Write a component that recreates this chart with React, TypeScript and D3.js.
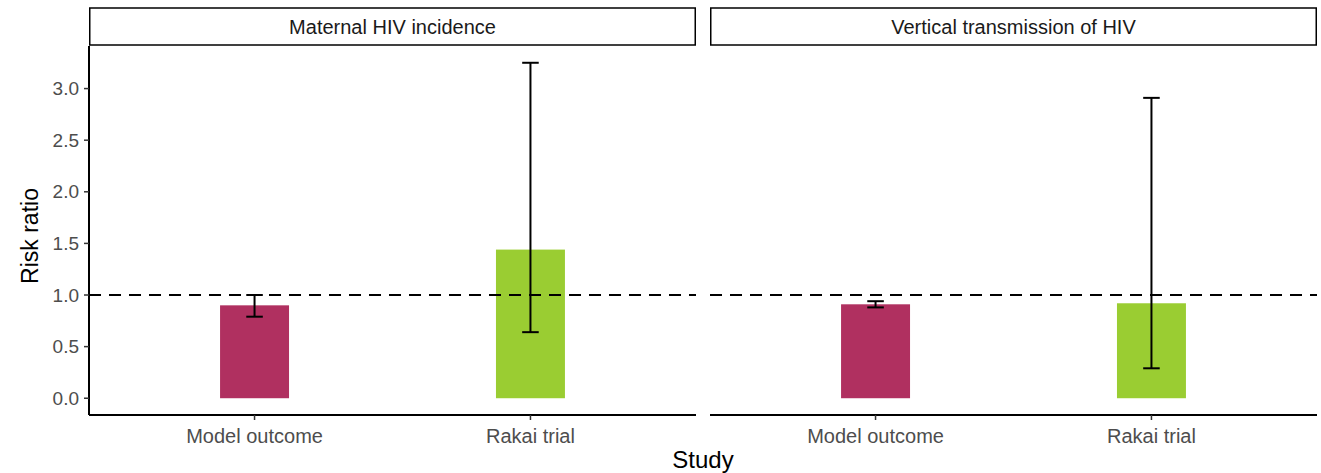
import * as d3 from 'd3';

const facets = ['Maternal HIV incidence', 'Vertical transmission of HIV'];
const studies = ['Model outcome', 'Rakai trial'];
// risk ratio and CI per facet, in the order of studies
const riskRatio = [
  [0.9, 1.44],
  [0.91, 0.92],
];
const lower = [
  [0.79, 0.64],
  [0.88, 0.29],
];
const upper = [
  [1.0, 3.25],
  [0.94, 2.91],
];
const yTicks = [0, 0.5, 1, 1.5, 2, 2.5, 3];
const colors = ['#B03060', '#9ACD32'];

export default function App() {
  const w = 1321;
  const h = 473;
  const panelTop = 46;
  const panelBottom = 415;
  const panelW = 607;
  const panelX = [89, 710];
  const font = 'Liberation Sans, Arial, sans-serif';

  const yScale = d3.scaleLinear().domain([-0.1625, 3.4125]).range([panelBottom, panelTop]);
  const xScale = d3.scaleLinear().domain([0.4, 2.6]).range([0, panelW]);
  const barW = 0.25;
  const capW = 0.06;

  return (
    <svg width={w} height={h} style={{ position: 'absolute', left: 0, top: 0, background: '#fff' }}>
      {facets.map((f, fi) => {
        const x0 = panelX[fi];
        return (
          <g key={f} transform={`translate(${x0},0)`}>
            {/* strip */}
            <rect x={0.75} y={8} width={panelW - 1.5} height={37} fill='#fff' stroke='#000' strokeWidth={1.5} />
            <text x={panelW / 2} y={34} textAnchor='middle' fontFamily={font} fontSize={20} fill='#1a1a1a'>
              {f}
            </text>
            {/* bars */}
            {studies.map((s, si) => {
              const v = riskRatio[fi][si];
              return (
                <rect
                  key={s}
                  x={xScale(si + 1 - barW / 2)}
                  y={yScale(v)}
                  width={xScale(barW) - xScale(0)}
                  height={yScale(0) - yScale(v)}
                  fill={colors[si]}
                />
              );
            })}
            {/* reference line */}
            <line x1={0} x2={panelW} y1={yScale(1)} y2={yScale(1)} stroke='#000' strokeWidth={2} strokeDasharray='12,8' />
            {/* error bars */}
            {studies.map((s, si) => {
              const cx = xScale(si + 1);
              const lo = yScale(lower[fi][si]);
              const hi = yScale(upper[fi][si]);
              const cw = (xScale(capW) - xScale(0)) / 2;
              return (
                <g key={s} stroke='#000' strokeWidth={2}>
                  <line x1={cx} x2={cx} y1={lo} y2={hi} />
                  <line x1={cx - cw} x2={cx + cw} y1={lo} y2={lo} />
                  <line x1={cx - cw} x2={cx + cw} y1={hi} y2={hi} />
                </g>
              );
            })}
            {/* x axis */}
            <line x1={0} x2={panelW} y1={panelBottom} y2={panelBottom} stroke='#000' strokeWidth={2} />
            {studies.map((s, si) => (
              <g key={s} transform={`translate(${xScale(si + 1)},0)`}>
                <line y1={panelBottom} y2={panelBottom + 5} stroke='#333' strokeWidth={1.5} />
                <text y={443} textAnchor='middle' fontFamily={font} fontSize={20} fill='#4d4d4d'>
                  {s}
                </text>
              </g>
            ))}
            {/* y axis only on first panel */}
            {fi === 0 && (
              <g>
                <line x1={0} x2={0} y1={panelTop} y2={panelBottom} stroke='#000' strokeWidth={2} />
                {yTicks.map((t) => (
                  <g key={t} transform={`translate(0,${yScale(t)})`}>
                    <line x1={-5} x2={0} stroke='#333' strokeWidth={1.5} />
                    <text x={-10} dy='0.35em' textAnchor='end' fontFamily={font} fontSize={19} fill='#4d4d4d'>
                      {d3.format('.1f')(t)}
                    </text>
                  </g>
                ))}
              </g>
            )}
          </g>
        );
      })}
      <text x={(89 + 1317) / 2} y={468} textAnchor='middle' fontFamily={font} fontSize={24} fill='#000'>
        Study
      </text>
      <text
        transform={`translate(38,236) rotate(-90)`}
        textAnchor='middle'
        fontFamily={font}
        fontSize={23}
        fill='#000'
      >
        Risk ratio
      </text>
    </svg>
  );
}
